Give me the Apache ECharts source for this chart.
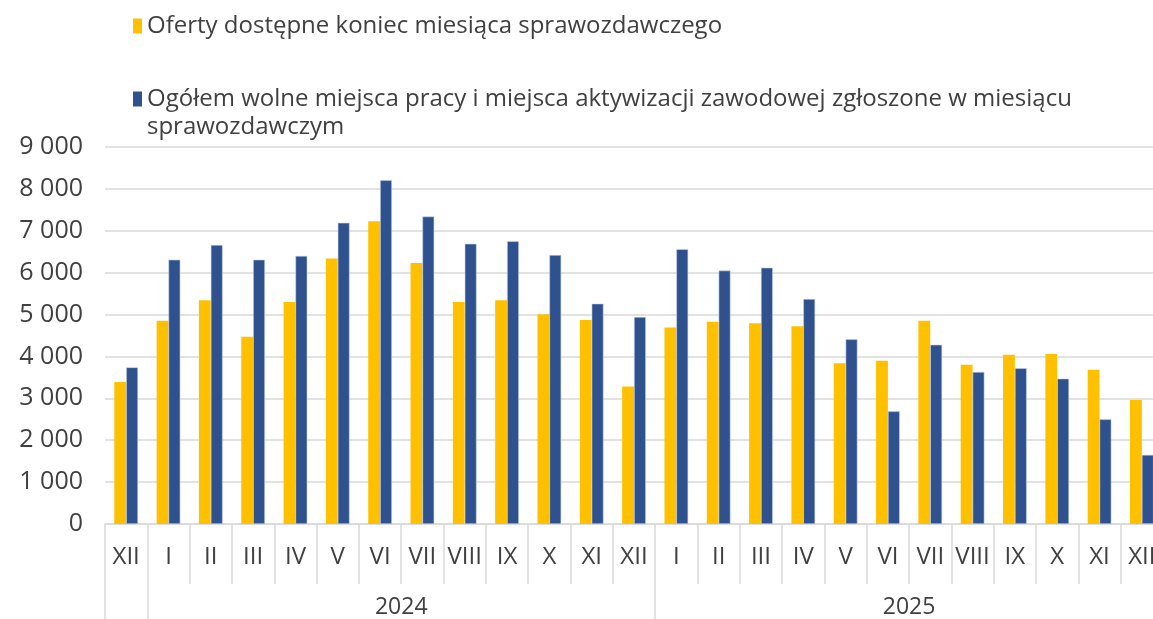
<!DOCTYPE html>
<html>
<head>
<meta charset="utf-8">
<script src="https://cdn.jsdelivr.net/npm/echarts@6/dist/echarts.min.js"></script>
<style>
  html, body { margin: 0; padding: 0; background: #fff; overflow: hidden; }
  /* the plot runs a little past the right edge of the picture, like the original */
  #chart { width: 1163px; height: 619px; }
</style>
</head>
<body>
<div id="chart"></div>
<script>
const months = [
  "XII",
  "I", "II", "III", "IV", "V", "VI", "VII", "VIII", "IX", "X", "XI", "XII",
  "I", "II", "III", "IV", "V", "VI", "VII", "VIII", "IX", "X", "XI", "XII"
];

// year groups: label and how many months they span
const yearLabels = ["", "2024", "2025"];
const yearSpans = [1, 12, 12];

const seriesNames = [
  "Oferty dostępne koniec miesiąca sprawozdawczego",
  "Ogółem wolne miejsca pracy i miejsca aktywizacji zawodowej zgłoszone w miesiącu sprawozdawczym"
];

const offersEnd = [
  3390,
  4850, 5340, 4470, 5300, 6340, 7230, 6230, 5300, 5340, 5010, 4870, 3280,
  4690, 4830, 4790, 4720, 3840, 3900, 4850, 3800, 4040, 4060, 3680, 2960
];

const offersNew = [
  3740,
  6310, 6660, 6310, 6400, 7190, 8210, 7340, 6690, 6750, 6420, 5260, 4940,
  6560, 6050, 6120, 5370, 4410, 2690, 4280, 3630, 3720, 3470, 2500, 1650
];

const colors = ["#FFC000", "#2F528F"];
const textColor = "#404040";
const gridColor = "#d9d9d9";
const font = "Open Sans";

// boundaries and centres of the year groups, in category units
const yearBounds = [0];
yearSpans.forEach((n) => yearBounds.push(yearBounds[yearBounds.length - 1] + n));
const yearCentres = {};
yearSpans.forEach((n, i) => {
  if (yearLabels[i]) yearCentres[yearBounds[i] + n / 2] = yearLabels[i];
});

function fmtThousands(v) {
  return String(v).replace(/\B(?=(\d{3})+(?!\d))/g, " ");
}

// legend marker sitting on the first line of a two-line label
const topIcon = "path://M0,0L9,0L9,15L0,15Z M0,43L0.01,43";

const chart = echarts.init(document.getElementById("chart"), null, { renderer: "canvas" });

chart.setOption({
  animation: false,
  textStyle: { fontFamily: font },
  legend: [
    {
      data: [seriesNames[0]],
      left: 128,
      top: 9,
      icon: "rect",
      itemWidth: 9,
      itemHeight: 15,
      itemStyle: { borderWidth: 0 },
      textStyle: { fontSize: 24, color: textColor, fontFamily: font }
    },
    {
      data: [seriesNames[1]],
      left: 128,
      top: 80,
      icon: topIcon,
      itemWidth: 9,
      itemHeight: 43,
      itemStyle: { borderWidth: 0 },
      formatter: (name) => name.replace(/ (sprawozdawczym)$/, "\n$1"),
      textStyle: { fontSize: 24, lineHeight: 28, color: textColor, fontFamily: font }
    }
  ],
  grid: {
    left: 105,
    right: 0,
    top: 147,
    bottom: 95,
    containLabel: false
  },
  xAxis: [
    {
      type: "category",
      data: months,
      position: "bottom",
      axisLine: { lineStyle: { color: gridColor, width: 1.5 } },
      axisTick: {
        show: true,
        interval: 0,
        length: 60,
        lineStyle: { color: gridColor, width: 1.5 }
      },
      axisLabel: {
        interval: 0,
        margin: 21,
        fontSize: 24,
        color: textColor,
        fontFamily: font
      }
    },
    {
      type: "value",
      min: 0,
      max: months.length,
      position: "bottom",
      axisLine: { show: false },
      splitLine: { show: false },
      axisTick: {
        show: true,
        length: 100,
        customValues: yearBounds,
        lineStyle: { color: gridColor, width: 1.5 }
      },
      axisLabel: {
        margin: 72,
        fontSize: 23,
        color: textColor,
        fontFamily: font,
        customValues: Object.keys(yearCentres).map(Number),
        formatter: (v) => yearCentres[v] || ""
      }
    }
  ],
  yAxis: {
    type: "value",
    min: 0,
    max: 9000,
    interval: 1000,
    axisLine: { show: false },
    axisTick: { show: false },
    axisLabel: {
      margin: 22,
      fontSize: 25,
      color: textColor,
      fontFamily: font,
      formatter: fmtThousands
    },
    splitLine: { lineStyle: { color: gridColor, width: 1.5 } }
  },
  series: [
    {
      name: seriesNames[0],
      type: "bar",
      data: offersEnd,
      barGap: "0%",
      barCategoryGap: "44%",
      itemStyle: { color: colors[0] }
    },
    {
      name: seriesNames[1],
      type: "bar",
      data: offersNew,
      barGap: "0%",
      barCategoryGap: "44%",
      itemStyle: { color: colors[1], borderColor: "rgba(200,212,235,0.9)", borderWidth: 0.6 }
    }
  ]
});
</script>
</body>
</html>
